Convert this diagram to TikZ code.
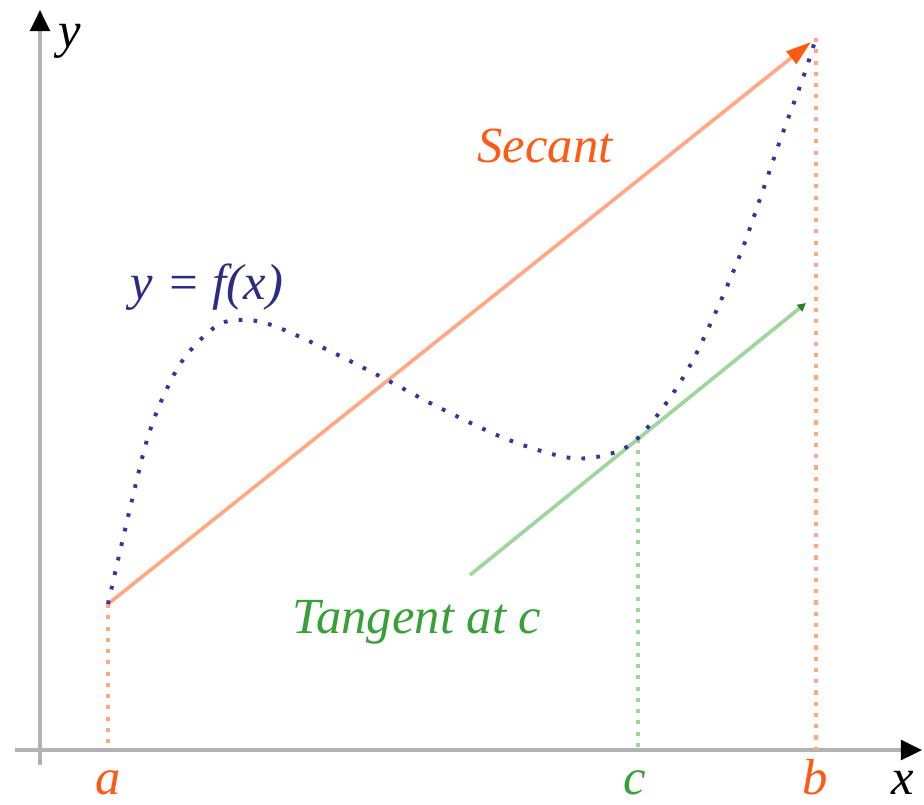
\documentclass[tikz,border=0pt]{standalone}
\usepackage{fontspec}
\setmainfont{Liberation Serif}
\usepackage{tikz}
\usetikzlibrary{arrows.meta,positioning,calc}
\definecolor{axisGray}{RGB}{178,178,178}
\definecolor{curveNavy}{RGB}{52,52,155}
\definecolor{secantLine}{RGB}{255,168,130}
\definecolor{secantText}{RGB}{255,90,20}
\definecolor{tangentLine}{RGB}{158,214,158}
\definecolor{tangentText}{RGB}{55,160,55}

\begin{document}
\begin{tikzpicture}[
  x=0.025cm, y=-0.025cm,
  font=\fontsize{36}{40}\selectfont\itshape,
  axis/.style={draw=axisGray, line width=2.6pt, -{Triangle[length=15pt, width=14pt, color=black]}},
  fcurve/.style={draw=curveNavy, line width=2.8pt, dash pattern=on 2.6pt off 8pt},
  secant/.style={draw=secantLine, line width=2.6pt, -{Triangle[length=18pt, width=11pt, color=secantText]}},
  tangent/.style={draw=tangentLine, line width=2.6pt, -{Triangle[length=6pt, width=6pt, color=tangentText!80!black]}},
  guide/.style={line width=2.4pt, dash pattern=on 3pt off 5pt},
  lbl/.style={anchor=base, inner sep=0pt}
]
\useasboundingbox (0,0) rectangle (924,804);

% Puntos clave
\coordinate (O) at (40,750);
\coordinate (A) at (108,604);
\coordinate (B) at (816,38);
\coordinate (Bs) at (811,42);
\coordinate (C) at (638,439);
\coordinate (T1) at (470,575);
\coordinate (T2) at (806,303);

% Ejes
\draw[axis] (40,765) -- (40,10);
\draw[axis] (15,750) -- (922,750);

% Guias verticales
\draw[guide, draw=secantLine] (A) -- (A |- O);
\draw[guide, draw=tangentLine] (C) -- (C |- O);
\draw[guide, draw=secantLine] (B) -- (B |- O);

% Secante y tangente
\draw[secant] (A) -- (Bs);
\draw[tangent] (T1) -- (T2);

% Curva y = f(x)
\draw[fcurve] plot[smooth, tension=0.55] coordinates {
  (108,604) (118,560) (132,500) (147,440) (163,397) (185,357) (218,325)
  (247,320) (277,327) (332,352) (387,380) (440,408) (509,440) (571,458)
  (613,453) (638,438) (667,402) (692,362) (718,307) (742,250) (762,193)
  (782,135) (803,78) (816,38)};

% Etiquetas
\node[lbl] (ylab) at (70,47) {y};
\node[lbl] (xlab) at (903,794) {x};
\node[lbl, text=secantText] (alab) at (108,794) {a};
\node[lbl, text=tangentText] (clab) at (635,794) {c};
\node[lbl, text=secantText] (blab) at (815,794) {b};
\node[lbl, text=secantText] (seclab) at (545,162) {Secant};
\node[lbl, text=curveNavy!85!black] (flab) at (207,299) {y = f(x)};
\node[lbl, text=tangentText] (tanlab) at (417,633) {Tangent at c};

\end{tikzpicture}
\end{document}
